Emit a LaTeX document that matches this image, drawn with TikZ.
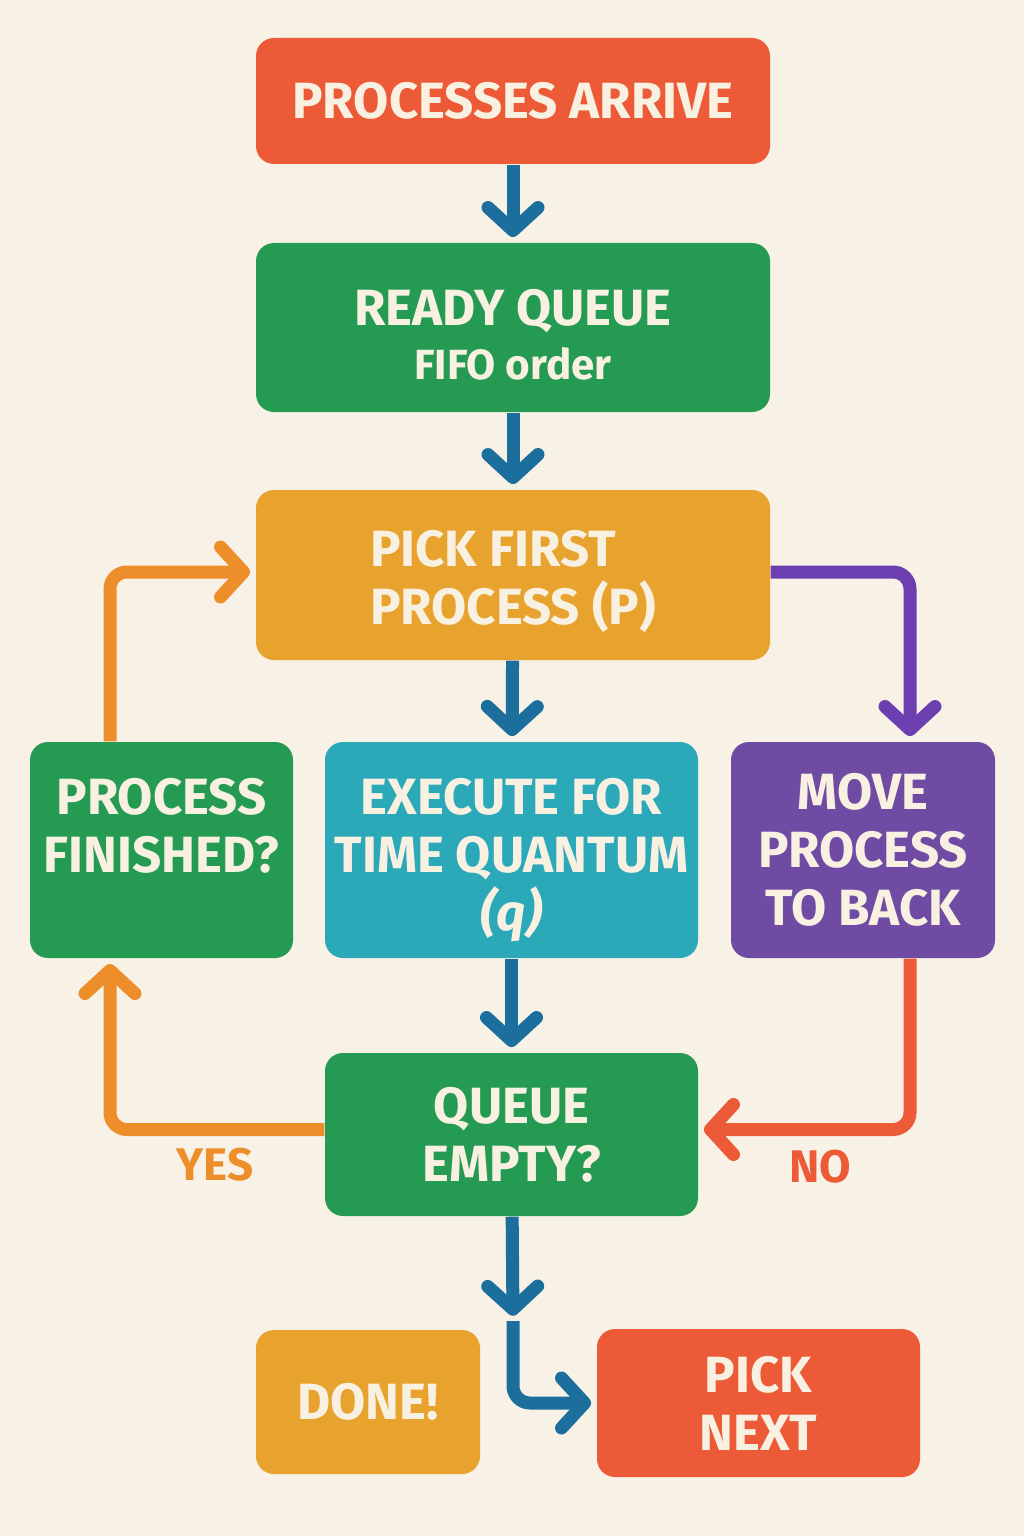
\documentclass[tikz,border=0pt]{standalone}
\usepackage{fontspec}
\setmainfont{Fira Sans}
\usetikzlibrary{arrows.meta}

\definecolor{bgcream}{HTML}{F7F1E6}
\definecolor{boxtext}{HTML}{F8F1E2}
\definecolor{tomato}{HTML}{EC5A37}
\definecolor{leaf}{HTML}{249A52}
\definecolor{amber}{HTML}{E8A22E}
\definecolor{teal}{HTML}{2BA9B9}
\definecolor{grape}{HTML}{6F4BA3}
\definecolor{petrol}{HTML}{1C6F9C}
\definecolor{carrot}{HTML}{EE8E2B}
\definecolor{violet}{HTML}{6C3FB0}

\begin{document}
\begin{tikzpicture}[x=1cm,y=-1cm,
  box/.style={rounded corners=0.18cm, text=boxtext, inner sep=0pt, align=center,
    font=\bfseries\fontsize{14.5}{16.5}\selectfont},
  flow/.style={line width=3.7pt, rounded corners=0.17cm, shorten >=1.5pt,
    -{Straight Barb[length=2.3mm,width=5mm,round]}},
  answer/.style={font=\bfseries\fontsize{13}{15}\selectfont}]

 \fill[bgcream] (0,0) rectangle (10.24,15.36);
 \useasboundingbox (0,0) rectangle (10.24,15.36);

 \node[box, fill=tomato, minimum width=5.14cm, minimum height=1.26cm] (arrive) at (5.13,1.01) {PROCESSES ARRIVE};
 \node[box, fill=leaf, minimum width=5.14cm, minimum height=1.69cm] (ready) at (5.13,3.275)
   {\rule{0pt}{0.51cm}READY QUEUE\\[-1pt]{\fontsize{12}{14}\selectfont FIFO order}};
 \node[box, fill=amber, minimum width=5.14cm, minimum height=1.70cm, align=left] (pick) at (5.13,5.75)
   {\rule{0pt}{0.49cm}PICK FIRST\\PROCESS (P)};
 \node[box, fill=leaf, minimum width=2.63cm, minimum height=2.16cm, text depth=0.5cm] (finished) at (1.615,8.50)
   {PROCESS\\FINISHED?};
 \node[box, fill=teal, minimum width=3.73cm, minimum height=2.16cm] (execute) at (5.115,8.50)
   {\rule{0pt}{0.57cm}EXECUTE FOR\\TIME QUANTUM\\{\itshape (q)}};
 \node[box, fill=grape, minimum width=2.64cm, minimum height=2.16cm] (move) at (8.63,8.50)
   {MOVE\\PROCESS\\TO BACK};
 \node[box, fill=leaf, minimum width=3.73cm, minimum height=1.63cm] (empty) at (5.115,11.345)
   {QUEUE\\EMPTY?};
 \node[box, fill=amber, minimum width=2.24cm, minimum height=1.44cm] (done) at (3.68,14.02) {DONE!};
 \node[box, fill=tomato, minimum width=3.23cm, minimum height=1.48cm] (next) at (7.585,14.03)
   {PICK\\NEXT};

 \node[answer, text=carrot] (yes) at (2.15,11.65) {YES};
 \node[answer, text=tomato] (no) at (8.20,11.67) {NO};
 \coordinate (split) at (5.13,13.21);

 \draw[flow, petrol] (arrive) -- (ready);
 \draw[flow, petrol] (ready) -- (pick);
 \draw[flow, petrol] (pick) -- (execute);
 \draw[flow, petrol] (execute) -- (empty);
 \draw[flow, petrol] (empty) -- (split);
 \draw[flow, petrol] (split) |- (next.west);
 \draw[flow, violet] ([yshift=0.03cm]pick.east) -| ([xshift=0.47cm]move.north);
 \draw[flow, tomato] ([xshift=0.47cm]move.south) |- ([yshift=0.05cm]empty.east);
 \draw[flow, carrot] ([yshift=0.05cm]empty.west) -| ([xshift=-0.515cm]finished.south);
 \draw[flow, carrot] ([xshift=-0.515cm]finished.north) |- ([yshift=0.03cm]pick.west);

\end{tikzpicture}
\end{document}
